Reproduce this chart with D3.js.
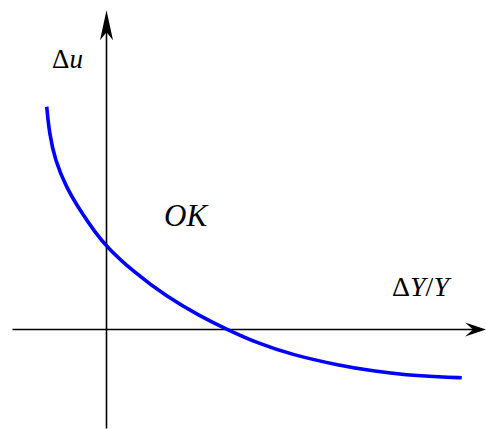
<!DOCTYPE html>
<html>
<head>
<meta charset="utf-8">
<script src="https://cdn.jsdelivr.net/npm/d3@7"></script>
<style>
  body { margin: 0; background: #fff; }
  text { font-family: "Liberation Serif", "DejaVu Serif", serif; fill: #000; }
</style>
</head>
<body>
<svg width="486" height="429"></svg>
<script>
// curve (x = dY/Y, y = du, arbitrary units)
let curveX = [-0.496, -0.475, -0.427, -0.336, -0.206, -0.095, 0, 0.222, 0.5, 0.776, 1.0, 1.257, 1.537, 1.938, 2.212, 2.491, 2.768, 2.948];
let curveY = [2.652, 2.339, 2.018, 1.696, 1.387, 1.16, 0.986, 0.688, 0.39, 0.16, 0, -0.165, -0.3, -0.43, -0.495, -0.542, -0.565, -0.574];

// axis extents
let xAxisExtent = [-0.78, 3.15];
let yAxisExtent = [-1.18, 3.8];

let x = d3.scaleLinear().domain([0, 1]).range([106.5, 227]);
let y = d3.scaleLinear().domain([0, 1]).range([329.5, 245.5]);

let svg = d3.select('svg');

// x axis
svg.append('line')
  .attr('x1', x(xAxisExtent[0]))
  .attr('x2', x(xAxisExtent[1]) - 10)
  .attr('y1', y(0))
  .attr('y2', y(0))
  .attr('stroke', '#000')
  .attr('stroke-width', 1.6);

// y axis
svg.append('line')
  .attr('x1', x(0))
  .attr('x2', x(0))
  .attr('y1', y(yAxisExtent[0]))
  .attr('y2', y(yAxisExtent[1]) + 10)
  .attr('stroke', '#000')
  .attr('stroke-width', 1.6);

// stealth style arrow heads
let tx = x(xAxisExtent[1]), ty = y(0);
svg.append('path')
  .attr('d', `M${tx},${ty} L${tx - 21},${ty - 7} L${tx - 13},${ty} L${tx - 21},${ty + 7} Z`)
  .attr('fill', '#000');

let ax = x(0), ay = y(yAxisExtent[1]);
svg.append('path')
  .attr('d', `M${ax},${ay} L${ax - 6.5},${ay + 30} L${ax},${ay + 22} L${ax + 6.5},${ay + 30} Z`)
  .attr('fill', '#000');

// curve
let line = d3.line()
  .x((d, i) => x(curveX[i]))
  .y((d) => y(d))
  .curve(d3.curveBasis);

svg.append('path')
  .datum(curveY)
  .attr('d', line)
  .attr('fill', 'none')
  .attr('stroke', '#0000ff')
  .attr('stroke-width', 3.6);

// labels
let yl = svg.append('text')
  .attr('x', 52).attr('y', 68)
  .style('font-size', '27px');
yl.append('tspan').text('Δ');
yl.append('tspan').style('font-style', 'italic').text('u');

let xl = svg.append('text')
  .attr('x', 392).attr('y', 296)
  .style('font-size', '28px');
xl.append('tspan').text('Δ');
xl.append('tspan').style('font-style', 'italic').text('Y');
xl.append('tspan').text('/');
xl.append('tspan').style('font-style', 'italic').text('Y');

svg.append('text')
  .attr('x', 164)
  .attr('y', 226)
  .style('font-size', '31px')
  .style('font-style', 'italic')
  .text('OK');
</script>
</body>
</html>
